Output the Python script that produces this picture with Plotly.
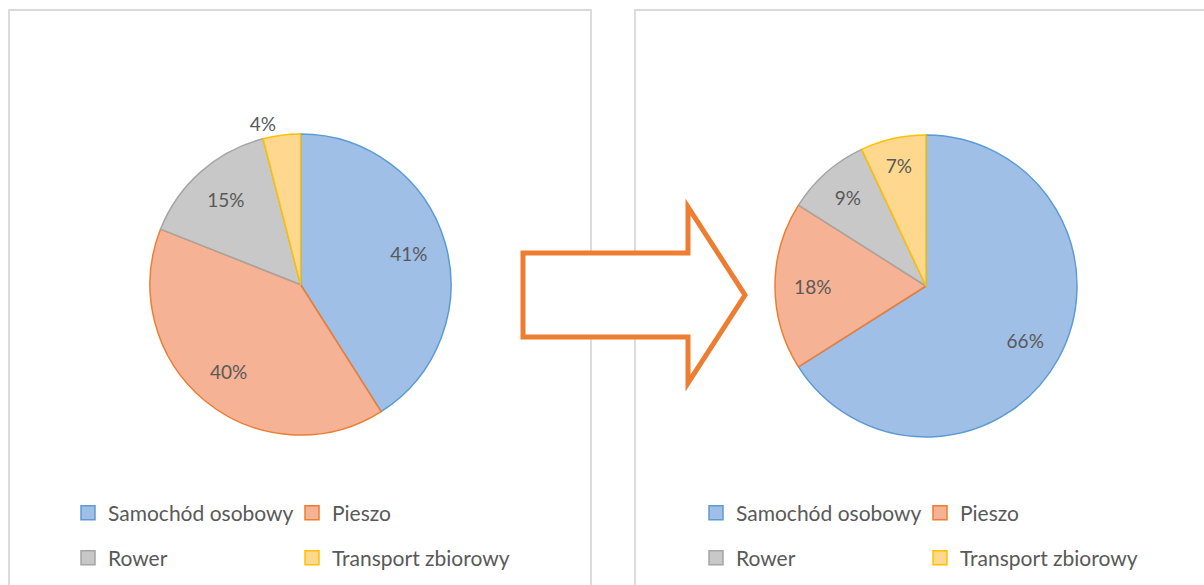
import plotly.graph_objects as go

CATEGORIES = ["Samochód osobowy", "Pieszo", "Rower", "Transport zbiorowy"]
BEFORE_VALUES = [41, 40, 15, 4]
AFTER_VALUES = [66, 18, 9, 7]

FILL_COLOURS = ["#9FBFE6", "#F6B294", "#C8C8C8", "#FFD88F"]
LINE_COLOURS = ["#5B9BD5", "#ED7D31", "#A5A5A5", "#FFC000"]

W, H = 1204, 585
TEXT_GREY = "#595959"
FONT = "Lato"


def px_x(v):
    return v / W


def px_y(v):
    return 1 - v / H


fig = go.Figure()

pie_common = dict(
    labels=CATEGORIES,
    sort=False,
    direction="clockwise",
    rotation=0,
    showlegend=False,
)

before_domain = dict(x=[px_x(150), px_x(451)], y=[px_y(435), px_y(134)])
after_domain = dict(x=[px_x(775), px_x(1077)], y=[px_y(437), px_y(135)])

# visible pies (no text)
for vals, dom in [(BEFORE_VALUES, before_domain), (AFTER_VALUES, after_domain)]:
    fig.add_trace(go.Pie(
        values=vals, domain=dom, textinfo="none",
        marker=dict(colors=FILL_COLOURS, line=dict(color=LINE_COLOURS, width=1.5)),
        hoverinfo="label+percent",
        **pie_common,
    ))

# transparent ring on top, only to place the percentage labels further out
for vals, dom, pos in [
    (BEFORE_VALUES, before_domain, ["inside", "inside", "inside", "outside"]),
    (AFTER_VALUES, after_domain, "inside"),
]:
    fig.add_trace(go.Pie(
        values=vals, domain=dom, hole=0.5,
        texttemplate="%{percent:.0%}",
        textposition=pos,
        insidetextorientation="horizontal",
        textfont=dict(family=FONT, size=19, color=TEXT_GREY),
        marker=dict(colors=["rgba(0,0,0,0)"] * 4, line=dict(width=0)),
        hoverinfo="skip",
        **pie_common,
    ))

# legend entries: two rows per panel, each row its own legend
rows = [[0, 1], [2, 3]]
legend_names = ["legend", "legend2", "legend3", "legend4"]
for panel in range(2):
    for r, idxs in enumerate(rows):
        lg = legend_names[panel * 2 + r]
        for i in idxs:
            fig.add_trace(go.Scatter(
                x=[None], y=[None], mode="markers",
                name=CATEGORIES[i],
                marker=dict(symbol="square", size=14, color=FILL_COLOURS[i],
                            line=dict(color=LINE_COLOURS[i], width=1.5)),
                legend=lg, hoverinfo="skip",
            ))

legend_common = dict(
    orientation="h",
    xanchor="left",
    yanchor="middle",
    entrywidth=179,
    entrywidthmode="pixels",
    font=dict(family=FONT, size=21, color=TEXT_GREY),
    bgcolor="rgba(0,0,0,0)",
    itemclick=False,
    itemdoubleclick=False,
)
legend_x = [px_x(68), px_x(696)]
legend_y = [px_y(513), px_y(558)]

shapes = [
    # panel borders
    dict(type="rect", xref="paper", yref="paper",
         x0=px_x(9), x1=px_x(591), y0=-0.05, y1=px_y(10),
         line=dict(color="#D9D9D9", width=1.8), fillcolor="rgba(0,0,0,0)"),
    dict(type="rect", xref="paper", yref="paper",
         x0=px_x(635), x1=1.05, y0=-0.05, y1=px_y(10),
         line=dict(color="#D9D9D9", width=1.8), fillcolor="rgba(0,0,0,0)"),
]

# block arrow between the panels
ax0, ax1, ax2 = 523, 688, 745
ay_tip = 295
body_half = 42
head_half = 88
pts = [
    (ax0, ay_tip - body_half), (ax1, ay_tip - body_half), (ax1, ay_tip - head_half),
    (ax2, ay_tip), (ax1, ay_tip + head_half), (ax1, ay_tip + body_half),
    (ax0, ay_tip + body_half),
]
path = "M " + " L ".join(f"{px_x(x):.5f},{px_y(y):.5f}" for x, y in pts) + " Z"
shapes.append(dict(type="path", xref="paper", yref="paper", path=path,
                   fillcolor="white", line=dict(color="#ED7D31", width=5)))

fig.update_layout(
    width=W, height=H,
    margin=dict(l=0, r=0, t=0, b=0),
    paper_bgcolor="white",
    plot_bgcolor="white",
    xaxis=dict(visible=False, domain=[0, 0.001]),
    yaxis=dict(visible=False, domain=[0, 0.001]),
    shapes=shapes,
    legend=dict(x=legend_x[0], y=legend_y[0], **legend_common),
    legend2=dict(x=legend_x[0], y=legend_y[1], **legend_common),
    legend3=dict(x=legend_x[1], y=legend_y[0], **legend_common),
    legend4=dict(x=legend_x[1], y=legend_y[1], **legend_common),
)

fig.write_html(
    "out.html",
    config={"displayModeBar": False},
    post_script="document.body.style.margin='0';document.body.style.overflow='hidden';",
)
